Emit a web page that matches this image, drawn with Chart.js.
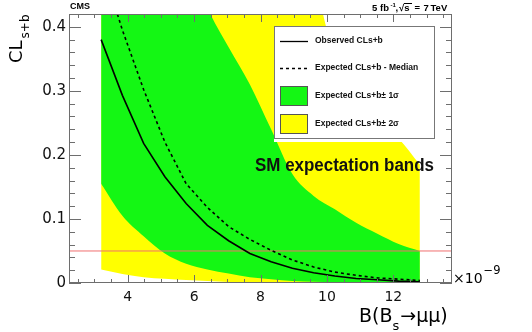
<!DOCTYPE html>
<html>
<head>
<meta charset="utf-8">
<script src="https://cdn.jsdelivr.net/npm/chart.js@4.4.0/dist/chart.umd.min.js"></script>
<style>
  body { margin: 0; background: #fff; }
  canvas { display: block; }
</style>
</head>
<body>
<canvas id="chart" width="532" height="332"></canvas>
<script>
'use strict';

// ************************** DATA ****************************************** //
let massPoints = [3.2, 3.84, 4.48, 5.12, 5.76, 6.4, 7.04, 7.68, 8.32, 8.96, 9.6, 10.24, 10.88, 11.52, 12.16, 12.8];
let observed = [0.380, 0.293, 0.218, 0.166, 0.124, 0.090, 0.066, 0.046, 0.033, 0.023, 0.016, 0.011, 0.007, 0.005, 0.003, 0.002];
let expectedMedian = [0.50, 0.395, 0.302, 0.220, 0.155, 0.118, 0.088, 0.068, 0.051, 0.036, 0.025, 0.017, 0.012, 0.008, 0.006, 0.004];
let oneSigmaUp = [1.2, 0.95, 0.78, 0.63, 0.52, 0.43, 0.368, 0.31, 0.24, 0.17, 0.136, 0.115, 0.094, 0.077, 0.061, 0.050];
let oneSigmaDown = [0.155, 0.105, 0.073, 0.046, 0.030, 0.021, 0.0147, 0.009, 0.006, 0.003, 0.002, 0.0015, 0.001, 0.0007, 0.0005, 0.0003];
let twoSigmaUp = [3.0, 2.6, 2.2, 1.9, 1.6, 1.35, 1.1, 0.9, 0.74, 0.6, 0.48, 0.35, 0.28, 0.245, 0.225, 0.185];
let twoSigmaDown = [0.021, 0.014, 0.009, 0.0065, 0.0045, 0.003, 0.0016, 0.001, 0.0007, 0.0005, 0.0003, 0.0002, 0.0001, 0.0001, 0.0001, 0.0001];
let clLevel = 0.05;
let xTicks = [4, 6, 8, 10, 12];
let yTicks = [0, 0.1, 0.2, 0.3, 0.4];
let xRange = [2.232, 13.768];
let yRange = [0, 0.42];

// ************************** HELPERS *************************************** //
function toPoints(values) {
  return values.map((v, i) => ({ x: massPoints[i], y: v }));
}

function bandSet(label, values, color, fill, order) {
  return {
    label: label,
    data: toPoints(values),
    backgroundColor: color,
    borderWidth: 0,
    pointRadius: 0,
    fill: fill,
    cubicInterpolationMode: 'monotone',
    order: order
  };
}

// ************************** DECORATION PLUGIN ***************************** //
let cmsDecor = {
  id: 'cmsDecor',
  afterDatasetsDraw(chart) {
    let ctx = chart.ctx;
    let area = chart.chartArea;
    let xs = chart.scales.x;
    let ys = chart.scales.y;
    ctx.save();

    // legend box
    let sets = chart.data.datasets;
    ctx.fillStyle = '#fff';
    ctx.fillRect(274, 26, 161, 116);
    ctx.strokeStyle = '#777';
    ctx.lineWidth = 1;
    ctx.strokeRect(274.5, 26.5, 160, 112);

    let rows = [
      { y: 41, kind: 'line', ds: sets[6] },
      { y: 68, kind: 'dash', ds: sets[5] },
      { y: 96, kind: 'box', ds: sets[2], text: 'Expected CLs+b\u00b1 1\u03c3' },
      { y: 124, kind: 'box', ds: sets[0], text: 'Expected CLs+b\u00b1 2\u03c3' }
    ];
    ctx.font = 'bold 8.5px "Liberation Sans"';
    ctx.textBaseline = 'middle';
    rows.forEach(r => {
      if (r.kind === 'box') {
        ctx.fillStyle = r.ds.backgroundColor;
        ctx.fillRect(280, r.y - 10, 28, 20);
        ctx.strokeStyle = '#555';
        ctx.strokeRect(280.5, r.y - 9.5, 27, 19);
      } else {
        ctx.strokeStyle = '#000';
        ctx.lineWidth = 1.3;
        ctx.setLineDash(r.kind === 'dash' ? [3, 3] : []);
        ctx.beginPath();
        ctx.moveTo(280, r.y + 0.5);
        ctx.lineTo(308, r.y + 0.5);
        ctx.stroke();
        ctx.setLineDash([]);
        ctx.lineWidth = 1;
      }
      ctx.fillStyle = '#111';
      ctx.fillText(r.text || r.ds.label, 315, r.y);
    });

    // SM text
    ctx.textBaseline = 'alphabetic';
    ctx.font = 'bold 18px "Liberation Sans"';
    let smText = 'SM expectation bands';
    let w = ctx.measureText(smText).width;
    ctx.save();
    ctx.translate(255, 171);
    ctx.scale(179 / w, 1);
    ctx.fillStyle = '#111';
    ctx.fillText(smText, 0, 0);
    ctx.restore();

    // frame and ticks
    ctx.strokeStyle = '#6e6e6e';
    ctx.lineWidth = 1;
    ctx.strokeRect(area.left + 0.5, area.top + 0.5, area.right - area.left - 1, area.bottom - area.top - 1);
    ctx.beginPath();
    for (let i = 5; i <= 27; i++) {
      let px = Math.round(xs.getPixelForValue(i / 2)) + 0.5;
      let len = i % 4 === 0 ? 8 : 4;
      ctx.moveTo(px, area.bottom);
      ctx.lineTo(px, area.bottom - len);
      ctx.moveTo(px, area.top);
      ctx.lineTo(px, area.top + len);
    }
    for (let i = 0; i <= 21; i++) {
      let py = Math.round(ys.getPixelForValue(i * 0.02)) + 0.5;
      let len = i % 5 === 0 ? 12 : 6;
      ctx.moveTo(area.left, py);
      ctx.lineTo(area.left + len, py);
      ctx.moveTo(area.right, py);
      ctx.lineTo(area.right - len, py);
    }
    ctx.stroke();

    // header texts
    ctx.fillStyle = '#000';
    ctx.font = 'bold 9px "Liberation Sans"';
    ctx.fillText('CMS', 70, 9);
    ctx.font = 'bold 9.5px "Liberation Sans"';
    ctx.fillText('5', 372, 11);
    ctx.fillText('fb', 380, 11);
    ctx.font = 'bold 6px "Liberation Sans"';
    ctx.fillText('-1', 390.5, 7);
    ctx.font = 'bold 9.5px "Liberation Sans"';
    ctx.fillText(',', 395.5, 11);
    ctx.fillText('\u221as', 399, 11);
    ctx.beginPath();
    ctx.moveTo(404, 3.5);
    ctx.lineTo(412, 3.5);
    ctx.strokeStyle = '#000';
    ctx.stroke();
    ctx.fillText('=', 414.5, 11);
    ctx.fillText('7', 423.5, 11);
    ctx.fillText('TeV', 430.5, 11);

    // axis titles
    ctx.font = '18px "DejaVu Sans"';
    ctx.save();
    ctx.translate(21.5, 63);
    ctx.rotate(-Math.PI / 2);
    ctx.fillText('CL', 0, 0);
    let clW = ctx.measureText('CL').width;
    ctx.font = '12px "DejaVu Sans"';
    ctx.fillText('s+b', clW + 2, 7);
    ctx.restore();

    ctx.font = '19px "DejaVu Sans"';
    ctx.fillText('B(B', 359, 321.5);
    let bw = ctx.measureText('B(B').width;
    ctx.font = '13px "DejaVu Sans"';
    ctx.fillText('s', 359 + bw, 330);
    let sw = ctx.measureText('s').width;
    ctx.font = '19px "DejaVu Sans"';
    ctx.fillText('\u2192\u03bc\u03bc)', 359 + bw + sw + 1, 321.5);

    ctx.font = '14px "DejaVu Sans"';
    ctx.fillText('\u00d710', 453, 283);
    let tw = ctx.measureText('\u00d710').width;
    ctx.font = '11.5px "DejaVu Sans"';
    ctx.fillText('\u22129', 453 + tw + 1, 273.5);

    ctx.restore();
  }
};

// ************************** CHART ***************************************** //
let chart = document.getElementById('chart');

let chartObj = {
  type: 'line',
  data: {
    datasets: [
      bandSet('Expected CLs+b \u00b1 2\u03c3', twoSigmaUp, '#ffff00', '+1', 10),
      bandSet('2 sigma down', twoSigmaDown, '#ffff00', false, 9),
      bandSet('Expected CLs+b \u00b1 1\u03c3', oneSigmaUp, '#14f714', '+1', 8),
      bandSet('1 sigma down', oneSigmaDown, '#14f714', false, 7),
      {
        label: 'CL 95%',
        data: [{ x: xRange[0], y: clLevel }, { x: xRange[1], y: clLevel }],
        borderColor: '#f07070',
        borderWidth: 1,
        pointRadius: 0,
        fill: false,
        order: 6
      },
      {
        label: 'Expected CLs+b - Median',
        data: toPoints(expectedMedian),
        borderColor: '#000',
        borderWidth: 1.6,
        borderDash: [3, 3],
        pointRadius: 0,
        fill: false,
        order: 5
      },
      {
        label: 'Observed CLs+b',
        data: toPoints(observed),
        borderColor: '#000',
        borderWidth: 1.6,
        pointRadius: 0,
        fill: false,
        order: 4
      }
    ]
  },
  options: {
    responsive: false,
    animation: false,
    devicePixelRatio: 1,
    layout: { padding: { top: 14, right: 80, left: 0, bottom: 0 } },
    plugins: {
      legend: { display: false },
      tooltip: { enabled: false }
    },
    scales: {
      x: {
        type: 'linear',
        min: xRange[0],
        max: xRange[1],
        grid: { display: false, drawTicks: false },
        border: { display: false },
        afterBuildTicks: scale => { scale.ticks = xTicks.map(v => ({ value: v })); },
        afterFit: scale => { scale.height = 49; },
        ticks: {
          autoSkip: false,
          maxRotation: 0,
          padding: 6,
          color: '#111',
          font: { family: 'DejaVu Sans', size: 14 },
          callback: v => String(v)
        }
      },
      y: {
        type: 'linear',
        min: yRange[0],
        max: yRange[1],
        grid: { display: false, drawTicks: false },
        border: { display: false },
        afterBuildTicks: scale => { scale.ticks = yTicks.map(v => ({ value: v })); },
        afterFit: scale => { scale.width = 69; },
        ticks: {
          autoSkip: false,
          padding: 3,
          color: '#111',
          font: { family: 'DejaVu Sans', size: 15 },
          callback: v => (v === 0 ? '0' : v.toFixed(1))
        }
      }
    }
  },
  plugins: [cmsDecor]
};

new Chart(chart, chartObj);
</script>
</body>
</html>
